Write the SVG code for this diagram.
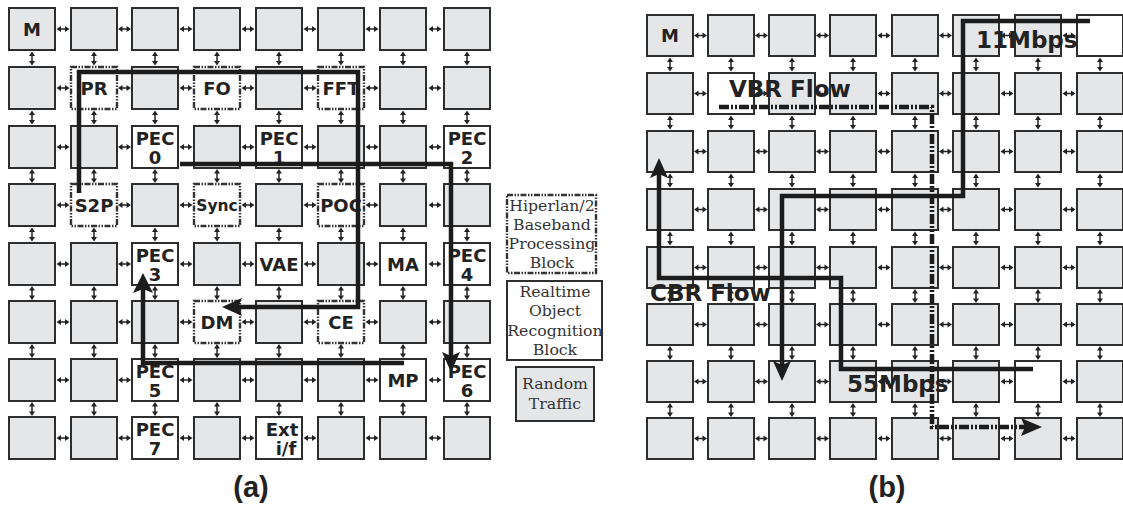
<svg xmlns="http://www.w3.org/2000/svg" xmlns:xlink="http://www.w3.org/1999/xlink" width="1123" height="507" viewBox="0 0 1123 507">
<style>
.g{fill:#e5e6e8;stroke:#2e2e2e;stroke-width:2}
.w{fill:#fff;stroke:#2e2e2e;stroke-width:2}
.d{fill:#fff;stroke:#333;stroke-width:2.4;stroke-dasharray:6 1.5 1.5 1.5 1.5 1.5}
.t{font-family:"DejaVu Sans",sans-serif;font-weight:bold;font-size:18px;fill:#222;text-anchor:middle}
.ft{font-family:"DejaVu Sans",sans-serif;font-weight:bold;font-size:23px;fill:#222}
.cap{font-family:"Liberation Sans",Arial,sans-serif;font-weight:bold;font-size:29px;fill:#222;text-anchor:middle}
.lg{font-family:"DejaVu Serif",serif;font-size:15.7px;fill:#333;text-anchor:middle}
.fl{fill:none;stroke:#1c1c1c;stroke-width:4.5;stroke-linejoin:miter}
.dd{stroke-dasharray:10 2 2 2 2 2}
.ah{fill:#1c1c1c}
.sa{stroke:#222;stroke-width:1.5;fill:none}
.sh{fill:#222}
</style>
<defs>
<g id="ha"><path class="sa" d="M3,0H10"/><path class="sh" d="M0,0L4.5,-3V3Z M13,0L8.5,-3V3Z"/></g>
<g id="va"><path class="sa" d="M0,3V11"/><path class="sh" d="M0,0L-3,4.5H3Z M0,14L-3,9.5H3Z"/></g>
<g id="harowA"><use href="#ha" x="56.5"/><use href="#ha" x="118"/><use href="#ha" x="179.5"/><use href="#ha" x="241.5"/><use href="#ha" x="303.5"/><use href="#ha" x="365.5"/><use href="#ha" x="428.5"/></g>
<g id="varowA"><use href="#va" x="32"/><use href="#va" x="94"/><use href="#va" x="155"/><use href="#va" x="217"/><use href="#va" x="279"/><use href="#va" x="341"/><use href="#va" x="403"/><use href="#va" x="467"/></g>
<g id="harowB"><use href="#ha" x="694"/><use href="#ha" x="755"/><use href="#ha" x="816"/><use href="#ha" x="877.5"/><use href="#ha" x="939"/><use href="#ha" x="1000.5"/><use href="#ha" x="1062.5"/></g>
<g id="varowB"><use href="#va" x="670"/><use href="#va" x="731"/><use href="#va" x="792"/><use href="#va" x="853"/><use href="#va" x="915"/><use href="#va" x="976"/><use href="#va" x="1038"/><use href="#va" x="1100"/></g>
</defs>
<rect width="1123" height="507" fill="#fff"/>

<!-- Grid (a) nodes -->
<g id="grid-a">
<g id="a00"><rect class="g" x="9" y="8" width="46" height="42"/><text class="t" x="32" y="35.5">M</text></g>
<g id="a01"><rect class="g" x="71" y="8" width="46" height="42"/></g>
<g id="a02"><rect class="g" x="132" y="8" width="46" height="42"/></g>
<g id="a03"><rect class="g" x="194" y="8" width="46" height="42"/></g>
<g id="a04"><rect class="g" x="256" y="8" width="46" height="42"/></g>
<g id="a05"><rect class="g" x="318" y="8" width="46" height="42"/></g>
<g id="a06"><rect class="g" x="380" y="8" width="46" height="42"/></g>
<g id="a07"><rect class="g" x="444" y="8" width="46" height="42"/></g>

<g id="a10"><rect class="g" x="9" y="67" width="46" height="42"/></g>
<g id="a11"><rect class="d" x="71" y="67" width="46" height="42"/><text class="t" x="94" y="94.5">PR</text></g>
<g id="a12"><rect class="g" x="132" y="67" width="46" height="42"/></g>
<g id="a13"><rect class="d" x="194" y="67" width="46" height="42"/><text class="t" x="217" y="94.5">FO</text></g>
<g id="a14"><rect class="g" x="256" y="67" width="46" height="42"/></g>
<g id="a15"><rect class="d" x="318" y="67" width="46" height="42"/><text class="t" x="341" y="94.5">FFT</text></g>
<g id="a16"><rect class="g" x="380" y="67" width="46" height="42"/></g>
<g id="a17"><rect class="g" x="444" y="67" width="46" height="42"/></g>

<g id="a20"><rect class="g" x="9" y="126" width="46" height="42"/></g>
<g id="a21"><rect class="g" x="71" y="126" width="46" height="42"/></g>
<g id="a22"><rect class="w" x="132" y="126" width="46" height="42"/><text class="t" x="155" y="145">PEC</text><text class="t" x="155" y="164">0</text></g>
<g id="a23"><rect class="g" x="194" y="126" width="46" height="42"/></g>
<g id="a24"><rect class="w" x="256" y="126" width="46" height="42"/><text class="t" x="279" y="145">PEC</text><text class="t" x="279" y="164">1</text></g>
<g id="a25"><rect class="g" x="318" y="126" width="46" height="42"/></g>
<g id="a26"><rect class="g" x="380" y="126" width="46" height="42"/></g>
<g id="a27"><rect class="w" x="444" y="126" width="46" height="42"/><text class="t" x="467" y="145">PEC</text><text class="t" x="467" y="164">2</text></g>

<g id="a30"><rect class="g" x="9" y="184" width="46" height="42"/></g>
<g id="a31"><rect class="d" x="71" y="184" width="46" height="42"/><text class="t" x="94" y="211.5">S2P</text></g>
<g id="a32"><rect class="g" x="132" y="184" width="46" height="42"/></g>
<g id="a33"><rect class="d" x="194" y="184" width="46" height="42"/><text class="t" x="217" y="211" style="font-size:15.5px">Sync</text></g>
<g id="a34"><rect class="g" x="256" y="184" width="46" height="42"/></g>
<g id="a35"><rect class="d" x="318" y="184" width="46" height="42"/><text class="t" x="341" y="211.5">POC</text></g>
<g id="a36"><rect class="g" x="380" y="184" width="46" height="42"/></g>
<g id="a37"><rect class="g" x="444" y="184" width="46" height="42"/></g>

<g id="a40"><rect class="g" x="9" y="243" width="46" height="42"/></g>
<g id="a41"><rect class="g" x="71" y="243" width="46" height="42"/></g>
<g id="a42"><rect class="w" x="132" y="243" width="46" height="42"/><text class="t" x="155" y="262">PEC</text><text class="t" x="155" y="281">3</text></g>
<g id="a43"><rect class="g" x="194" y="243" width="46" height="42"/></g>
<g id="a44"><rect class="w" x="256" y="243" width="46" height="42"/><text class="t" x="279" y="270.5">VAE</text></g>
<g id="a45"><rect class="g" x="318" y="243" width="46" height="42"/></g>
<g id="a46"><rect class="w" x="380" y="243" width="46" height="42"/><text class="t" x="403" y="270.5">MA</text></g>
<g id="a47"><rect class="w" x="444" y="243" width="46" height="42"/><text class="t" x="467" y="262">PEC</text><text class="t" x="467" y="281">4</text></g>

<g id="a50"><rect class="g" x="9" y="301" width="46" height="42"/></g>
<g id="a51"><rect class="g" x="71" y="301" width="46" height="42"/></g>
<g id="a52"><rect class="g" x="132" y="301" width="46" height="42"/></g>
<g id="a53"><rect class="d" x="194" y="301" width="46" height="42"/><text class="t" x="217" y="328.5">DM</text></g>
<g id="a54"><rect class="g" x="256" y="301" width="46" height="42"/></g>
<g id="a55"><rect class="d" x="318" y="301" width="46" height="42"/><text class="t" x="341" y="328.5">CE</text></g>
<g id="a56"><rect class="g" x="380" y="301" width="46" height="42"/></g>
<g id="a57"><rect class="g" x="444" y="301" width="46" height="42"/></g>

<g id="a60"><rect class="g" x="9" y="359" width="46" height="42"/></g>
<g id="a61"><rect class="g" x="71" y="359" width="46" height="42"/></g>
<g id="a62"><rect class="w" x="132" y="359" width="46" height="42"/><text class="t" x="155" y="378">PEC</text><text class="t" x="155" y="397">5</text></g>
<g id="a63"><rect class="g" x="194" y="359" width="46" height="42"/></g>
<g id="a64"><rect class="g" x="256" y="359" width="46" height="42"/></g>
<g id="a65"><rect class="g" x="318" y="359" width="46" height="42"/></g>
<g id="a66"><rect class="w" x="380" y="359" width="46" height="42"/><text class="t" x="403" y="386.5">MP</text></g>
<g id="a67"><rect class="w" x="444" y="359" width="46" height="42"/><text class="t" x="467" y="378">PEC</text><text class="t" x="467" y="397">6</text></g>

<g id="a70"><rect class="g" x="9" y="417" width="46" height="42"/></g>
<g id="a71"><rect class="g" x="71" y="417" width="46" height="42"/></g>
<g id="a72"><rect class="w" x="132" y="417" width="46" height="42"/><text class="t" x="155" y="436">PEC</text><text class="t" x="155" y="455">7</text></g>
<g id="a73"><rect class="g" x="194" y="417" width="46" height="42"/></g>
<g id="a74"><rect class="w" x="256" y="417" width="46" height="42"/><text class="t" x="282" y="436">Ext</text><text class="t" x="286" y="455">i/f</text></g>
<g id="a75"><rect class="g" x="318" y="417" width="46" height="42"/></g>
<g id="a76"><rect class="g" x="380" y="417" width="46" height="42"/></g>
<g id="a77"><rect class="g" x="444" y="417" width="46" height="42"/></g>
</g>

<!-- Grid (b) nodes -->
<g id="grid-b">
<g id="b00"><rect class="g" x="647" y="15" width="46" height="41"/><text class="t" x="670" y="42">M</text></g>
<g id="b01"><rect class="g" x="708" y="15" width="46" height="41"/></g>
<g id="b02"><rect class="g" x="769" y="15" width="46" height="41"/></g>
<g id="b03"><rect class="g" x="830" y="15" width="46" height="41"/></g>
<g id="b04"><rect class="g" x="892" y="15" width="46" height="41"/></g>
<g id="b05"><rect class="g" x="953" y="15" width="46" height="41"/></g>
<g id="b06"><rect class="g" x="1015" y="15" width="46" height="41"/></g>
<g id="b07"><rect class="w" x="1077" y="15" width="46" height="41"/></g>

<g id="b10"><rect class="g" x="647" y="73" width="46" height="41"/></g>
<g id="b11"><rect class="w" x="708" y="73" width="46" height="41"/></g>
<g id="b12"><rect class="g" x="769" y="73" width="46" height="41"/></g>
<g id="b13"><rect class="g" x="830" y="73" width="46" height="41"/></g>
<g id="b14"><rect class="g" x="892" y="73" width="46" height="41"/></g>
<g id="b15"><rect class="g" x="953" y="73" width="46" height="41"/></g>
<g id="b16"><rect class="g" x="1015" y="73" width="46" height="41"/></g>
<g id="b17"><rect class="g" x="1077" y="73" width="46" height="41"/></g>

<g id="b20"><rect class="g" x="647" y="131" width="46" height="41"/></g>
<g id="b21"><rect class="g" x="708" y="131" width="46" height="41"/></g>
<g id="b22"><rect class="g" x="769" y="131" width="46" height="41"/></g>
<g id="b23"><rect class="g" x="830" y="131" width="46" height="41"/></g>
<g id="b24"><rect class="g" x="892" y="131" width="46" height="41"/></g>
<g id="b25"><rect class="g" x="953" y="131" width="46" height="41"/></g>
<g id="b26"><rect class="g" x="1015" y="131" width="46" height="41"/></g>
<g id="b27"><rect class="g" x="1077" y="131" width="46" height="41"/></g>

<g id="b30"><rect class="g" x="647" y="189" width="46" height="41"/></g>
<g id="b31"><rect class="g" x="708" y="189" width="46" height="41"/></g>
<g id="b32"><rect class="g" x="769" y="189" width="46" height="41"/></g>
<g id="b33"><rect class="g" x="830" y="189" width="46" height="41"/></g>
<g id="b34"><rect class="g" x="892" y="189" width="46" height="41"/></g>
<g id="b35"><rect class="g" x="953" y="189" width="46" height="41"/></g>
<g id="b36"><rect class="g" x="1015" y="189" width="46" height="41"/></g>
<g id="b37"><rect class="g" x="1077" y="189" width="46" height="41"/></g>

<g id="b40"><rect class="g" x="647" y="247" width="46" height="41"/></g>
<g id="b41"><rect class="g" x="708" y="247" width="46" height="41"/></g>
<g id="b42"><rect class="g" x="769" y="247" width="46" height="41"/></g>
<g id="b43"><rect class="g" x="830" y="247" width="46" height="41"/></g>
<g id="b44"><rect class="g" x="892" y="247" width="46" height="41"/></g>
<g id="b45"><rect class="g" x="953" y="247" width="46" height="41"/></g>
<g id="b46"><rect class="g" x="1015" y="247" width="46" height="41"/></g>
<g id="b47"><rect class="g" x="1077" y="247" width="46" height="41"/></g>

<g id="b50"><rect class="g" x="647" y="304" width="46" height="41"/></g>
<g id="b51"><rect class="g" x="708" y="304" width="46" height="41"/></g>
<g id="b52"><rect class="g" x="769" y="304" width="46" height="41"/></g>
<g id="b53"><rect class="g" x="830" y="304" width="46" height="41"/></g>
<g id="b54"><rect class="g" x="892" y="304" width="46" height="41"/></g>
<g id="b55"><rect class="g" x="953" y="304" width="46" height="41"/></g>
<g id="b56"><rect class="g" x="1015" y="304" width="46" height="41"/></g>
<g id="b57"><rect class="g" x="1077" y="304" width="46" height="41"/></g>

<g id="b60"><rect class="g" x="647" y="361" width="46" height="41"/></g>
<g id="b61"><rect class="g" x="708" y="361" width="46" height="41"/></g>
<g id="b62"><rect class="g" x="769" y="361" width="46" height="41"/></g>
<g id="b63"><rect class="g" x="830" y="361" width="46" height="41"/></g>
<g id="b64"><rect class="g" x="892" y="361" width="46" height="41"/></g>
<g id="b65"><rect class="g" x="953" y="361" width="46" height="41"/></g>
<g id="b66"><rect class="w" x="1015" y="361" width="46" height="41"/></g>
<g id="b67"><rect class="g" x="1077" y="361" width="46" height="41"/></g>

<g id="b70"><rect class="g" x="647" y="418" width="46" height="41"/></g>
<g id="b71"><rect class="g" x="708" y="418" width="46" height="41"/></g>
<g id="b72"><rect class="g" x="769" y="418" width="46" height="41"/></g>
<g id="b73"><rect class="g" x="830" y="418" width="46" height="41"/></g>
<g id="b74"><rect class="g" x="892" y="418" width="46" height="41"/></g>
<g id="b75"><rect class="g" x="953" y="418" width="46" height="41"/></g>
<g id="b76"><rect class="g" x="1015" y="418" width="46" height="41"/></g>
<g id="b77"><rect class="g" x="1077" y="418" width="46" height="41"/></g>
</g>

<!-- Legend -->
<g id="legend">
<g id="legend-hiperlan"><rect class="d" x="507" y="195" width="89" height="78"/>
<text class="lg" x="552" y="211">Hiperlan/2</text><text class="lg" x="552" y="230">Baseband</text><text class="lg" x="552" y="249">Processing</text><text class="lg" x="552" y="268">Block</text></g>
<g id="legend-realtime"><rect class="w" x="507" y="281" width="95" height="79"/>
<text class="lg" x="555" y="297">Realtime</text><text class="lg" x="555" y="316">Object</text><text class="lg" x="555" y="336">Recognition</text><text class="lg" x="555" y="355">Block</text></g>
<g id="legend-random"><rect class="g" x="516" y="367" width="78" height="54"/>
<text class="lg" x="555" y="389">Random</text><text class="lg" x="555" y="409">Traffic</text></g>
</g>

<!-- Connectors -->
<g id="connectors">
<g id="links-a">
<use href="#harowA" y="29"/><use href="#harowA" y="88"/><use href="#harowA" y="147"/><use href="#harowA" y="205"/><use href="#harowA" y="264"/><use href="#harowA" y="322"/><use href="#harowA" y="380"/><use href="#harowA" y="438"/>
<use href="#varowA" y="51.5"/><use href="#varowA" y="110.5"/><use href="#varowA" y="169"/><use href="#varowA" y="227.5"/><use href="#varowA" y="286"/><use href="#varowA" y="344"/><use href="#varowA" y="402"/>
</g>
<g id="links-b">
<use href="#harowB" y="35.5"/><use href="#harowB" y="93.5"/><use href="#harowB" y="151.5"/><use href="#harowB" y="209.5"/><use href="#harowB" y="267.5"/><use href="#harowB" y="324.5"/><use href="#harowB" y="381.5"/><use href="#harowB" y="438.5"/>
<use href="#varowB" y="57.5"/><use href="#varowB" y="115.5"/><use href="#varowB" y="173.5"/><use href="#varowB" y="231.5"/><use href="#varowB" y="289"/><use href="#varowB" y="346"/><use href="#varowB" y="403"/>
</g>
<g id="flows-a">
<path class="fl" d="M79,193V72H358V307H238"/>
<path class="ah" d="M222,307L242,298L238,307L242,316Z"/>
<path class="fl" d="M180,164H451V357"/>
<path class="ah" d="M451,372L442,352L451,356L460,352Z"/>
<path class="fl" d="M404,363H143V289"/>
<path class="ah" d="M143,273L133,293L143,289L153,293Z"/>
</g>
<g id="flows-b">
<path class="fl" d="M1090,21H963V196H782V366"/>
<path class="ah" d="M782,381L773,361L782,365L791,361Z"/>
<path class="fl" d="M1033,369H841V278H659V174"/>
<path class="ah" d="M659,158L650,178L659,174L668,178Z"/>
<path class="fl dd" d="M719,107H932V427H1025"/>
<path class="ah" d="M1042,427L1021,418L1025,427L1021,436Z"/>
</g>
</g>

<!-- Flow labels -->
<g id="flow-labels">
<text class="ft" x="729" y="97">VBR Flow</text>
<text class="ft" x="976" y="48">11Mbps</text>
<text class="ft" x="650" y="301">CBR Flow</text>
<text class="ft" x="847" y="392">55Mbps</text>
</g>

<text class="cap" x="251" y="497">(a)</text>
<text class="cap" x="887" y="497">(b)</text>
</svg>
